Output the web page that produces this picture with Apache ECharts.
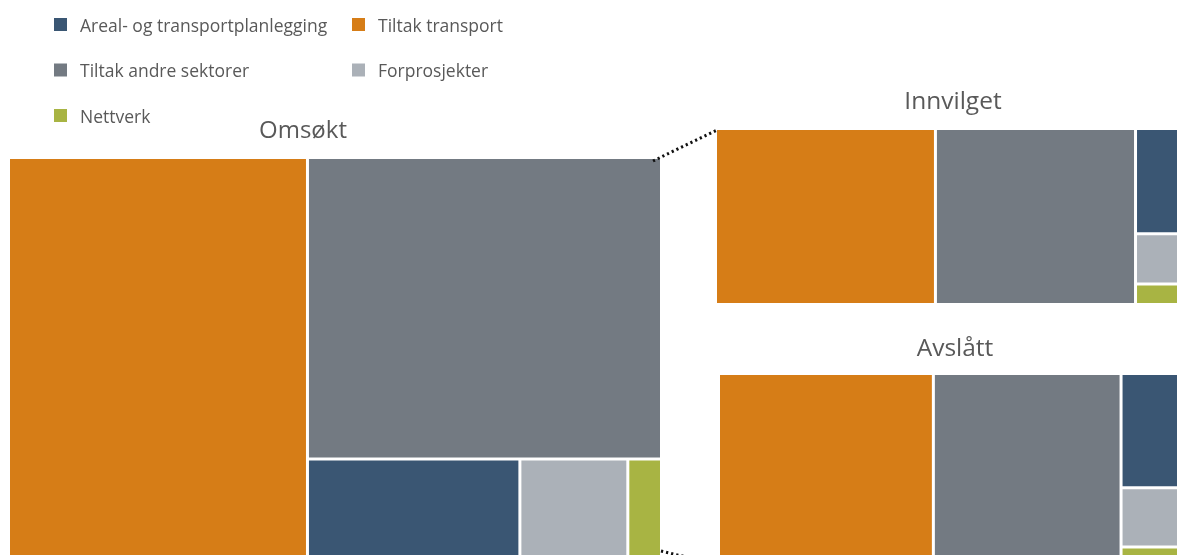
<!DOCTYPE html>
<html>
<head>
<meta charset="utf-8">
<script src="https://cdn.jsdelivr.net/npm/echarts@6/dist/echarts.min.js"></script>
<style>
  html, body { margin: 0; padding: 0; background: #ffffff; }
  #chart { width: 1177px; height: 555px; }
</style>
</head>
<body>
<div id="chart"></div>
<script>
// Søknadsbeløp per kategori (mill. kr)
const categories = [
  'Tiltak transport',
  'Tiltak andre sektorer',
  'Areal- og transportplanlegging',
  'Forprosjekter',
  'Nettverk'
];
const omsokt    = [137.4, 121.7, 24.6, 12.5, 3.9];
const innvilget = [46.5, 42.3, 6.7, 3.2, 1.3];
const avslatt   = [90.9, 79.4, 17.9, 9.3, 2.6];

// Rekkefølge i tegnforklaringen (to kolonner)
const legendOrder = [
  'Areal- og transportplanlegging',
  'Tiltak transport',
  'Tiltak andre sektorer',
  'Forprosjekter',
  'Nettverk'
];

const colors = {
  'Areal- og transportplanlegging': '#3a5673',
  'Tiltak transport': '#d67d17',
  'Tiltak andre sektorer': '#737a82',
  'Forprosjekter': '#abb1b8',
  'Nettverk': '#a8b443'
};

const FONT = '"Open Sans", "Noto Sans", sans-serif';
const TEXT_COLOR = '#595959';

// Plassering av de tre trekartene
const boxes = {
  omsokt:    { x: 10,  y: 159, w: 650, h: 400 },
  innvilget: { x: 717, y: 130, w: 470, h: 173 },
  avslatt:   { x: 720, y: 375, w: 470, h: 187 }
};

function treemapSeries(name, values, box) {
  return {
    type: 'treemap',
    name: name,
    left: box.x,
    top: box.y,
    width: box.w,
    height: box.h,
    roam: false,
    nodeClick: false,
    silent: true,
    animation: false,
    breadcrumb: { show: false },
    squareRatio: 1,
    sort: 'desc',
    visibleMin: 0,
    label: { show: false },
    upperLabel: { show: false },
    emphasis: { disabled: true },
    itemStyle: { borderWidth: 0, gapWidth: 3, borderColor: '#ffffff' },
    levels: [
      { itemStyle: { borderWidth: 0, gapWidth: 3, borderColor: '#ffffff' } },
      { itemStyle: { borderWidth: 0 } }
    ],
    data: categories.map((c, i) => ({
      name: c,
      value: values[i],
      itemStyle: { color: colors[c] }
    }))
  };
}

// Tegnforklaring: farget kvadrat + tekst, to kolonner
const legendGraphics = [];
legendOrder.forEach((name, i) => {
  const col = i % 2;
  const row = Math.floor(i / 2);
  const x = col === 0 ? 54 : 352;
  const cy = 24.5 + row * 45.5;
  legendGraphics.push({
    type: 'rect',
    shape: { x: x, y: cy - 6.5, width: 13, height: 13 },
    style: { fill: colors[name] },
    silent: true
  });
  legendGraphics.push({
    type: 'text',
    x: x + 26,
    y: cy + 2.5,
    style: {
      text: name,
      fill: TEXT_COLOR,
      font: '17.5px ' + FONT,
      verticalAlign: 'middle',
      align: 'left'
    },
    silent: true
  });
});

// Overskrifter over hvert trekart
function heading(text, x, y, size) {
  return {
    type: 'text',
    x: x,
    y: y,
    style: {
      text: text,
      fill: TEXT_COLOR,
      font: size + 'px ' + FONT,
      align: 'center',
      verticalAlign: 'middle'
    },
    silent: true
  };
}

// Prikkede forbindelseslinjer fra "Omsøkt" til de to delkartene
const om = boxes.omsokt, inn = boxes.innvilget, av = boxes.avslatt;
const dotted = { stroke: '#111111', lineWidth: 3, lineDash: [2.2, 3], fill: null };
const connectors = [
  {
    type: 'line',
    shape: { x1: om.x + om.w - 7, y1: om.y + 2, x2: inn.x, y2: inn.y },
    style: dotted,
    z: 100,
    silent: true
  },
  {
    type: 'line',
    shape: { x1: om.x + om.w + 1, y1: 551, x2: av.x, y2: 565 },
    style: dotted,
    z: 100,
    silent: true
  }
];

const chart = echarts.init(document.getElementById('chart'), null, { renderer: 'canvas' });
chart.setOption({
  backgroundColor: '#ffffff',
  animation: false,
  series: [
    treemapSeries('Omsøkt', omsokt, boxes.omsokt),
    treemapSeries('Innvilget', innvilget, boxes.innvilget),
    treemapSeries('Avslått', avslatt, boxes.avslatt)
  ],
  graphic: [
    ...legendGraphics,
    heading('Omsøkt', 303, 131, 24),
    heading('Innvilget', 953, 102, 24.5),
    heading('Avslått', 955, 349, 24.5),
    ...connectors
  ]
});
</script>
</body>
</html>
